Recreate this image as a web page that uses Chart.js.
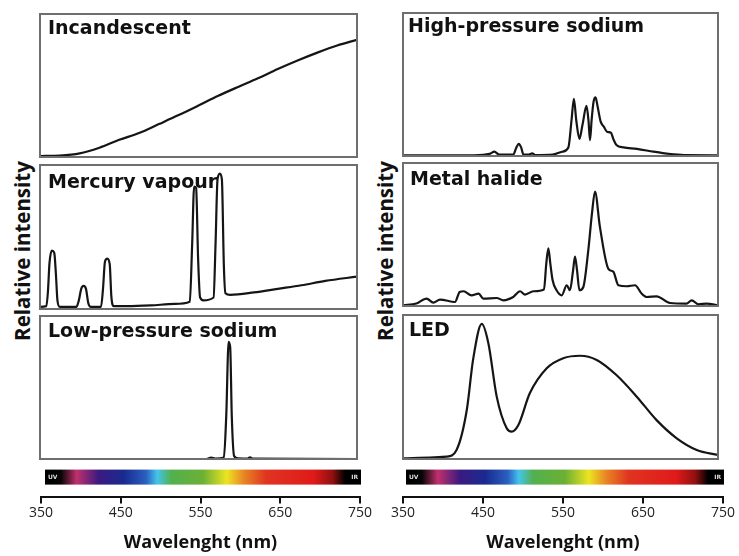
<!DOCTYPE html>
<html>
<head>
<meta charset="utf-8">
<script src="https://cdn.jsdelivr.net/npm/chart.js@4.4.1/dist/chart.umd.min.js"></script>
<style>
  html,body{margin:0;padding:0;background:#fff;}
  #wrap{position:relative;width:739px;height:556px;overflow:hidden;background:#fff;}
  canvas{position:absolute;}
  .ylab{position:absolute;white-space:nowrap;font-family:"Open Sans",sans-serif;font-weight:700;font-size:20.5px;color:#111;transform:translate(-50%,-50%) rotate(-90deg);}
</style>
</head>
<body>
<div id="wrap">
  <div class="ylab" style="left:22px;top:251px;">Relative intensity</div>
  <div class="ylab" style="left:385px;top:251px;">Relative intensity</div>
</div>
<script>
// ---------- DATA (wavelength in nm, relative intensity 0-100) ----------
const tickValues = [350, 450, 550, 650, 750];
const xTitle = 'Wavelenght (nm)';
const yTitle = 'Relative intensity';

const incWl  = [350, 375, 400, 425, 450, 475, 500, 525, 550, 575, 600, 625, 650, 675, 700, 725, 750];
const incVal = [0.7, 1, 2.5, 6.5, 12, 16.8, 23, 29.3, 36, 42.8, 49, 55, 61.5, 67.5, 73, 78, 82];

const hgWl  = [350, 358, 360, 362, 365, 368, 370, 372, 375, 396, 399, 402, 405, 408, 411, 414, 427, 429.5, 432, 435, 438, 440, 443, 460, 490, 520, 539, 542, 544.5, 547, 549.5, 552, 556, 569, 571.5, 574, 577, 579.5, 582, 584, 590, 620, 650, 680, 710, 750];
const hgVal = [1.5, 2, 12, 32, 40.5, 39, 25, 6, 1.5, 1.5, 6, 14, 16, 14, 4, 1.5, 1.5, 14, 33, 35, 31, 9, 2, 2, 2.5, 3.5, 5, 45, 85, 84, 35, 8, 6, 8, 45, 90, 94, 90, 30, 11, 9.8, 11.5, 14, 16.5, 19.5, 22.5];

const lpsWl  = [350, 560, 566, 571, 582, 585, 588, 590, 592, 595, 600, 612, 615, 618, 750];
const lpsVal = [0, 0, 1, 0.3, 1, 30, 82, 78, 30, 2, 0.5, 0.3, 1.2, 0.3, 0];

const hpsWl  = [350, 440, 460, 466, 472, 490, 494, 497, 500, 503, 510, 514, 518, 540, 552, 560, 564, 567, 570, 574, 578, 583, 585.5, 587.5, 589.5, 592, 594.5, 597, 601, 605, 609, 614, 617, 621, 630, 647, 668, 680, 690, 710, 750];
const hpsVal = [0.5, 0.5, 1.5, 3, 1, 1, 6, 8.5, 6, 1, 1, 1.8, 0.7, 1, 3, 6, 25, 40, 25, 12, 22, 35, 25, 11, 25, 38, 41, 35, 24, 20.5, 17, 16.3, 12, 7.7, 6, 5, 3, 2, 1.4, 0.6, 0.5];

const mhWl  = [350, 367, 380, 388.5, 397, 416, 422, 427, 437, 446, 452, 469, 477.5, 490, 498.6, 505, 515.5, 529, 532, 534.6, 537, 540, 545, 551.6, 557.9, 562, 566, 568.4, 571, 574, 579, 585.3, 590, 593.8, 600, 610.8, 617, 623.5, 634, 644.6, 653, 659.5, 672, 689, 710, 716.6, 725, 735.6, 750];
const mhVal = [0.5, 1.7, 5.2, 2.4, 4.5, 2.8, 9.8, 10.3, 7.5, 8.7, 5.2, 5.6, 4, 6.3, 10.3, 8, 10.3, 11.5, 30, 40.3, 30, 18, 11, 7.5, 14.5, 11, 25, 34.6, 25, 11, 13.3, 39, 65, 80, 55.5, 26, 24, 14.5, 13.8, 14.5, 8.7, 6.3, 6.8, 2.1, 1.7, 4, 1.2, 1.7, 0.5];

const ledWl  = [350, 405, 418, 431, 439, 450, 458.4, 469, 481.7, 488, 496.5, 511, 532.5, 553.5, 574.8, 596, 621, 646.8, 672, 697.6, 723, 750];
const ledVal = [0.5, 1.6, 6.3, 34, 69, 93.8, 80.4, 43.3, 21.3, 19, 23.6, 45.6, 63, 70, 71.7, 68.8, 58.3, 43.3, 27, 14.4, 6.3, 2.8];

const panelTitles = ['Incandescent', 'Mercury vapour', 'Low-pressure sodium', 'High-pressure sodium', 'Metal halide', 'LED'];

// spectrum colour stops (fraction along the bar, colour)
const spectrumStops = [
  [0, '#000000'], [0.05, '#050505'], [0.10, '#c0306c'], [0.17, '#3a1a80'], [0.25, '#1a2a90'],
  [0.32, '#2a60c0'], [0.355, '#44c4ec'], [0.40, '#52b04e'], [0.50, '#6cb034'], [0.575, '#ece422'],
  [0.63, '#e88424'], [0.70, '#e03420'], [0.85, '#e01a1a'], [0.91, '#901010'], [0.95, '#000000'], [1, '#000000']
];

// ---------- helpers ----------
const wrap = document.getElementById('wrap');
function makeCanvas(left, top, w, h) {
  const c = document.createElement('canvas');
  c.width = w; c.height = h;
  c.style.left = left + 'px'; c.style.top = top + 'px';
  c.style.width = w + 'px'; c.style.height = h + 'px';
  wrap.appendChild(c);
  return c;
}
function pts(wl, v) { return wl.map((w, i) => ({ x: w, y: v[i] })); }

const framePlugin = {
  id: 'frame',
  afterDraw(chart, args, opts) {
    const { ctx, chartArea: a } = chart;
    ctx.save();
    ctx.strokeStyle = '#6e6e6e';
    ctx.lineWidth = 2;
    ctx.strokeRect(a.left, a.top, a.right - a.left, a.bottom - a.top);
    ctx.fillStyle = '#111';
    ctx.font = 'bold 19px "DejaVu Sans"';
    ctx.textBaseline = 'alphabetic';
    ctx.textAlign = 'left';
    ctx.fillText(opts.text, a.left + opts.dx, a.top + opts.dy);
    ctx.restore();
  }
};

const PAD = 4;
function panel(box, wl, val, title, dx, dy, tension) {
  const c = makeCanvas(box[0] - PAD, box[1] - PAD, box[2] - box[0] + 2 * PAD, box[3] - box[1] + 2 * PAD);
  new Chart(c, {
    type: 'line',
    data: { datasets: [{ data: pts(wl, val), borderColor: '#151515', borderWidth: 2.2, pointRadius: 0,
      fill: false, cubicInterpolationMode: 'monotone', tension: tension }] },
    options: {
      responsive: false, animation: false, events: [], devicePixelRatio: 1,
      layout: { padding: PAD },
      scales: {
        x: { type: 'linear', min: 350, max: 750, display: false },
        y: { min: 0, max: 100, display: false }
      },
      plugins: { legend: { display: false }, tooltip: { enabled: false },
        frame: { text: title, dx: dx, dy: dy } }
    },
    plugins: [framePlugin]
  });
}

// left column
panel([40, 14, 357, 157], incWl, incVal, panelTitles[0], 8, 20, 0.4);
panel([40, 165, 357, 309], hgWl, hgVal, panelTitles[1], 8, 23, 0.4);
panel([40, 316, 357, 459], lpsWl, lpsVal, panelTitles[2], 8, 21, 0.4);
// right column
panel([403, 13, 718, 156], hpsWl, hpsVal, panelTitles[3], 5, 19, 0.4);
panel([403, 163, 718, 306], mhWl, mhVal, panelTitles[4], 7, 22, 0.4);
panel([403, 315, 718, 459], ledWl, ledVal, panelTitles[5], 6, 21, 0.4);

// ---------- spectrum bar + wavelength axis ----------
const spectrumPlugin = {
  id: 'spectrum',
  beforeDraw(chart, args, opts) {
    const { ctx, chartArea: a } = chart;
    const h = 15;
    const x0 = a.left + opts.offset, x1 = a.right + 1, y0 = a.bottom - 27;
    const g = ctx.createLinearGradient(x0, 0, x1, 0);
    spectrumStops.forEach(s => g.addColorStop(s[0], s[1]));
    ctx.save();
    ctx.fillStyle = g;
    ctx.fillRect(x0, y0, x1 - x0, h);
    ctx.fillStyle = '#ddd';
    ctx.font = 'bold 6px "DejaVu Sans"';
    ctx.textBaseline = 'middle';
    ctx.textAlign = 'left';
    ctx.fillText('UV', x0 + 3, y0 + h / 2);
    ctx.textAlign = 'right';
    ctx.fillText('IR', x1 - 3, y0 + h / 2);
    ctx.restore();
  }
};

function axisChart(left, width, padL, padR, offset) {
  const c = makeCanvas(left, 380, width, 176);
  new Chart(c, {
    type: 'scatter',
    data: { datasets: [{ data: [] }] },
    options: {
      responsive: false, animation: false, events: [], devicePixelRatio: 1,
      layout: { padding: { left: padL, right: padR, top: 0, bottom: 2 } },
      scales: {
        x: {
          type: 'linear', min: 350, max: 750, position: 'bottom',
          afterBuildTicks: (s) => { s.ticks = tickValues.map(v => ({ value: v })); },
          ticks: { color: '#222', font: { family: 'Open Sans', size: 14 }, padding: 1, maxRotation: 0, autoSkip: false },
          grid: { display: true, drawOnChartArea: false, drawTicks: true, tickLength: 7, color: '#111', lineWidth: 2 },
          border: { display: true, color: '#111', width: 2 },
          title: { display: true, text: xTitle, color: '#111', font: { family: 'Open Sans', size: 18, weight: 'bold' }, padding: { top: 10, bottom: 0 } }
        },
        y: { display: false, min: 0, max: 1 }
      },
      plugins: { legend: { display: false }, tooltip: { enabled: false }, spectrum: { offset: offset } }
    },
    plugins: [spectrumPlugin]
  });
}
axisChart(21, 359, 20, 20, 4);
axisChart(383, 356, 20, 16, 3);
</script>
</body>
</html>
